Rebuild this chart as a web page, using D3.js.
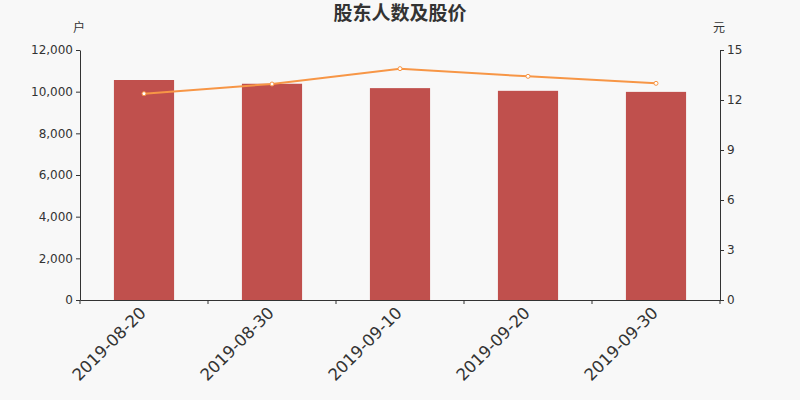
<!DOCTYPE html>
<html lang="zh">
<head>
<meta charset="utf-8">
<script src="https://cdn.jsdelivr.net/npm/d3@7"></script>
<style>
    body { margin: 0; background: #f8f8f8; }
    svg { display: block; background: #f8f8f8; font-family: "DejaVu Sans", "Noto Sans CJK SC", sans-serif; }
    .axis path, .axis line { stroke: #333; }
    .axis text { fill: #333; font-size: 12px; font-family: "DejaVu Sans", sans-serif; }
</style>
</head>
<body>
<script>
    // 数据
    var dates = ["2019-08-20", "2019-08-30", "2019-09-10", "2019-09-20", "2019-09-30"];
    var holders = [10560, 10380, 10170, 10040, 9990];
    var prices = [12.38, 12.96, 13.88, 13.42, 13.0];
    var leftTicks = [0, 2000, 4000, 6000, 8000, 10000, 12000];
    var rightTicks = [0, 3, 6, 9, 12, 15];

    var svgWidth = 800, svgHeight = 400;
    var margin = {top: 50, right: 80, bottom: 100, left: 80};
    var chartWidth = svgWidth - margin.left - margin.right;
    var chartHeight = svgHeight - margin.top - margin.bottom;

    var svg = d3.select("body").append("svg")
        .attr("width", svgWidth)
        .attr("height", svgHeight);

    var g = svg.append("g")
        .attr("transform", "translate(" + margin.left + "," + margin.top + ")");

    var x = d3.scaleBand().domain(dates).range([0, chartWidth]).padding(0);
    var yL = d3.scaleLinear().domain([0, 12000]).range([chartHeight, 0]);
    var yR = d3.scaleLinear().domain([0, 15]).range([chartHeight, 0]);

    /* 标题 */
    svg.append("text")
        .attr("x", svgWidth / 2).attr("y", 20)
        .attr("text-anchor", "middle")
        .style("font-size", "19px").style("font-weight", "bold").style("fill", "#333")
        .text("股东人数及股价");

    svg.append("text").attr("x", 79).attr("y", 32).attr("text-anchor", "middle")
        .style("font-size", "12px").style("fill", "#333").text("户");
    svg.append("text").attr("x", 719).attr("y", 32).attr("text-anchor", "middle")
        .style("font-size", "12px").style("fill", "#333").text("元");

    /* 柱子 */
    var barW = x.bandwidth() * 0.47;
    g.selectAll("rect.bar")
        .data(holders)
        .enter().append("rect")
        .attr("class", "bar")
        .attr("x", function(d, i) { return x(dates[i]) + (x.bandwidth() - barW) / 2; })
        .attr("y", function(d) { return yL(d); })
        .attr("width", barW)
        .attr("height", function(d) { return chartHeight - yL(d); })
        .style("fill", "#c0504d");

    /* 轴 */
    g.append("g").attr("class", "axis")
        .call(d3.axisLeft(yL).tickValues(leftTicks).tickSize(4).tickSizeOuter(0).tickFormat(d3.format(",")));

    g.append("g").attr("class", "axis")
        .attr("transform", "translate(" + chartWidth + ",0)")
        .call(d3.axisRight(yR).tickValues(rightTicks).tickSize(4).tickSizeOuter(0));

    var xAxis = g.append("g").attr("class", "axis")
        .attr("transform", "translate(0," + chartHeight + ")")
        .call(d3.axisBottom(x).tickSize(0).tickSizeOuter(0));
    xAxis.selectAll(".tick text")
        .style("font-size", "16.5px")
        .attr("text-anchor", "end")
        .attr("x", 0).attr("y", 0)
        .attr("dx", 0).attr("dy", 0)
        .attr("transform", "translate(3,14) rotate(-45)");

    // 分隔刻度
    var bounds = dates.map(function(d) { return x(d); }).concat([chartWidth]);
    xAxis.selectAll("line.sep")
        .data(bounds)
        .enter().append("line")
        .attr("class", "sep")
        .attr("x1", function(d) { return d; }).attr("x2", function(d) { return d; })
        .attr("y1", 0).attr("y2", 4);

    /* 折线 */
    var line = d3.line()
        .x(function(d, i) { return x(dates[i]) + x.bandwidth() / 2; })
        .y(function(d) { return yR(d); });

    g.append("path")
        .datum(prices)
        .attr("d", line)
        .style("fill", "none")
        .style("stroke", "#f79646")
        .style("stroke-width", 2);

    g.selectAll("circle.dot")
        .data(prices)
        .enter().append("circle")
        .attr("class", "dot")
        .attr("cx", function(d, i) { return x(dates[i]) + x.bandwidth() / 2; })
        .attr("cy", function(d) { return yR(d); })
        .attr("r", 2)
        .style("fill", "#fff")
        .style("stroke", "#f79646")
        .style("stroke-width", 1);
</script>
</body>
</html>
